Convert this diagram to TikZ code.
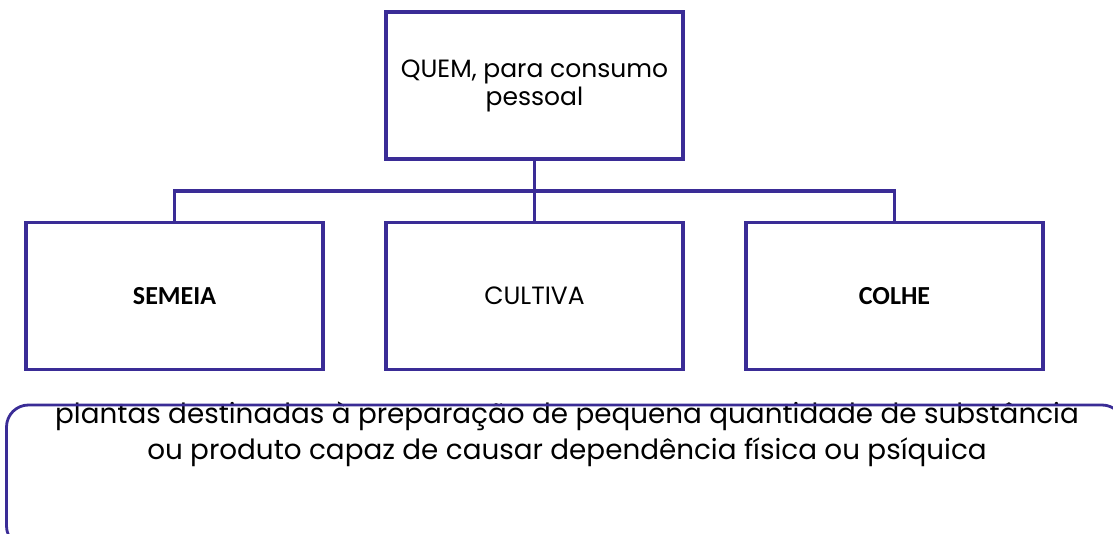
\documentclass[tikz,border=0pt]{standalone}
\usepackage{fontspec}
\setmainfont{Poppins}[Ligatures=NoCommon]
\newfontfamily\boxfont{Carlito}
\definecolor{treeblue}{RGB}{58,44,150}
\tikzset{
  leaf/.style={draw=treeblue,line width=3.2pt,minimum width=297pt,minimum height=147pt,inner sep=0pt,align=center,font=\fontsize{25}{28}\selectfont},
  bold leaf/.style={leaf,font=\boxfont\bfseries\fontsize{26}{28}\selectfont},
  link/.style={draw=treeblue,line width=3.2pt}
}
\begin{document}
\begin{tikzpicture}[x=1pt,y=-1pt]
    \useasboundingbox (0,0) rectangle (1113,534);
    \clip (0,0) rectangle (1113,534);
    \node[leaf] (quem) at (534.5,85.5) {QUEM, para consumo\\pessoal};
    \node[bold leaf] (semeia) at (174.5,296) {SEMEIA};
    \node[leaf] (cultiva) at (534.5,296) {CULTIVA};
    \node[bold leaf] (colhe) at (894.5,296) {COLHE};
    \coordinate (bus) at (534.5,191);
    \draw[link] (quem.south) -- (bus) -| (semeia.north);
    \draw[link] (bus) -| (colhe.north);
    \draw[link] (bus) -- (cultiva.north);
    \node[font=\fontsize{27.8}{36}\selectfont,align=center,anchor=base] (plantas) at (567,459)
      {plantas destinadas à preparação de pequena quantidade de substância\\ou produto capaz de causar dependência física ou psíquica};
    \draw[treeblue,line width=2.8pt,rounded corners=22pt] (6.5,405) rectangle (1124,548);
  \end{tikzpicture}
\end{document}
